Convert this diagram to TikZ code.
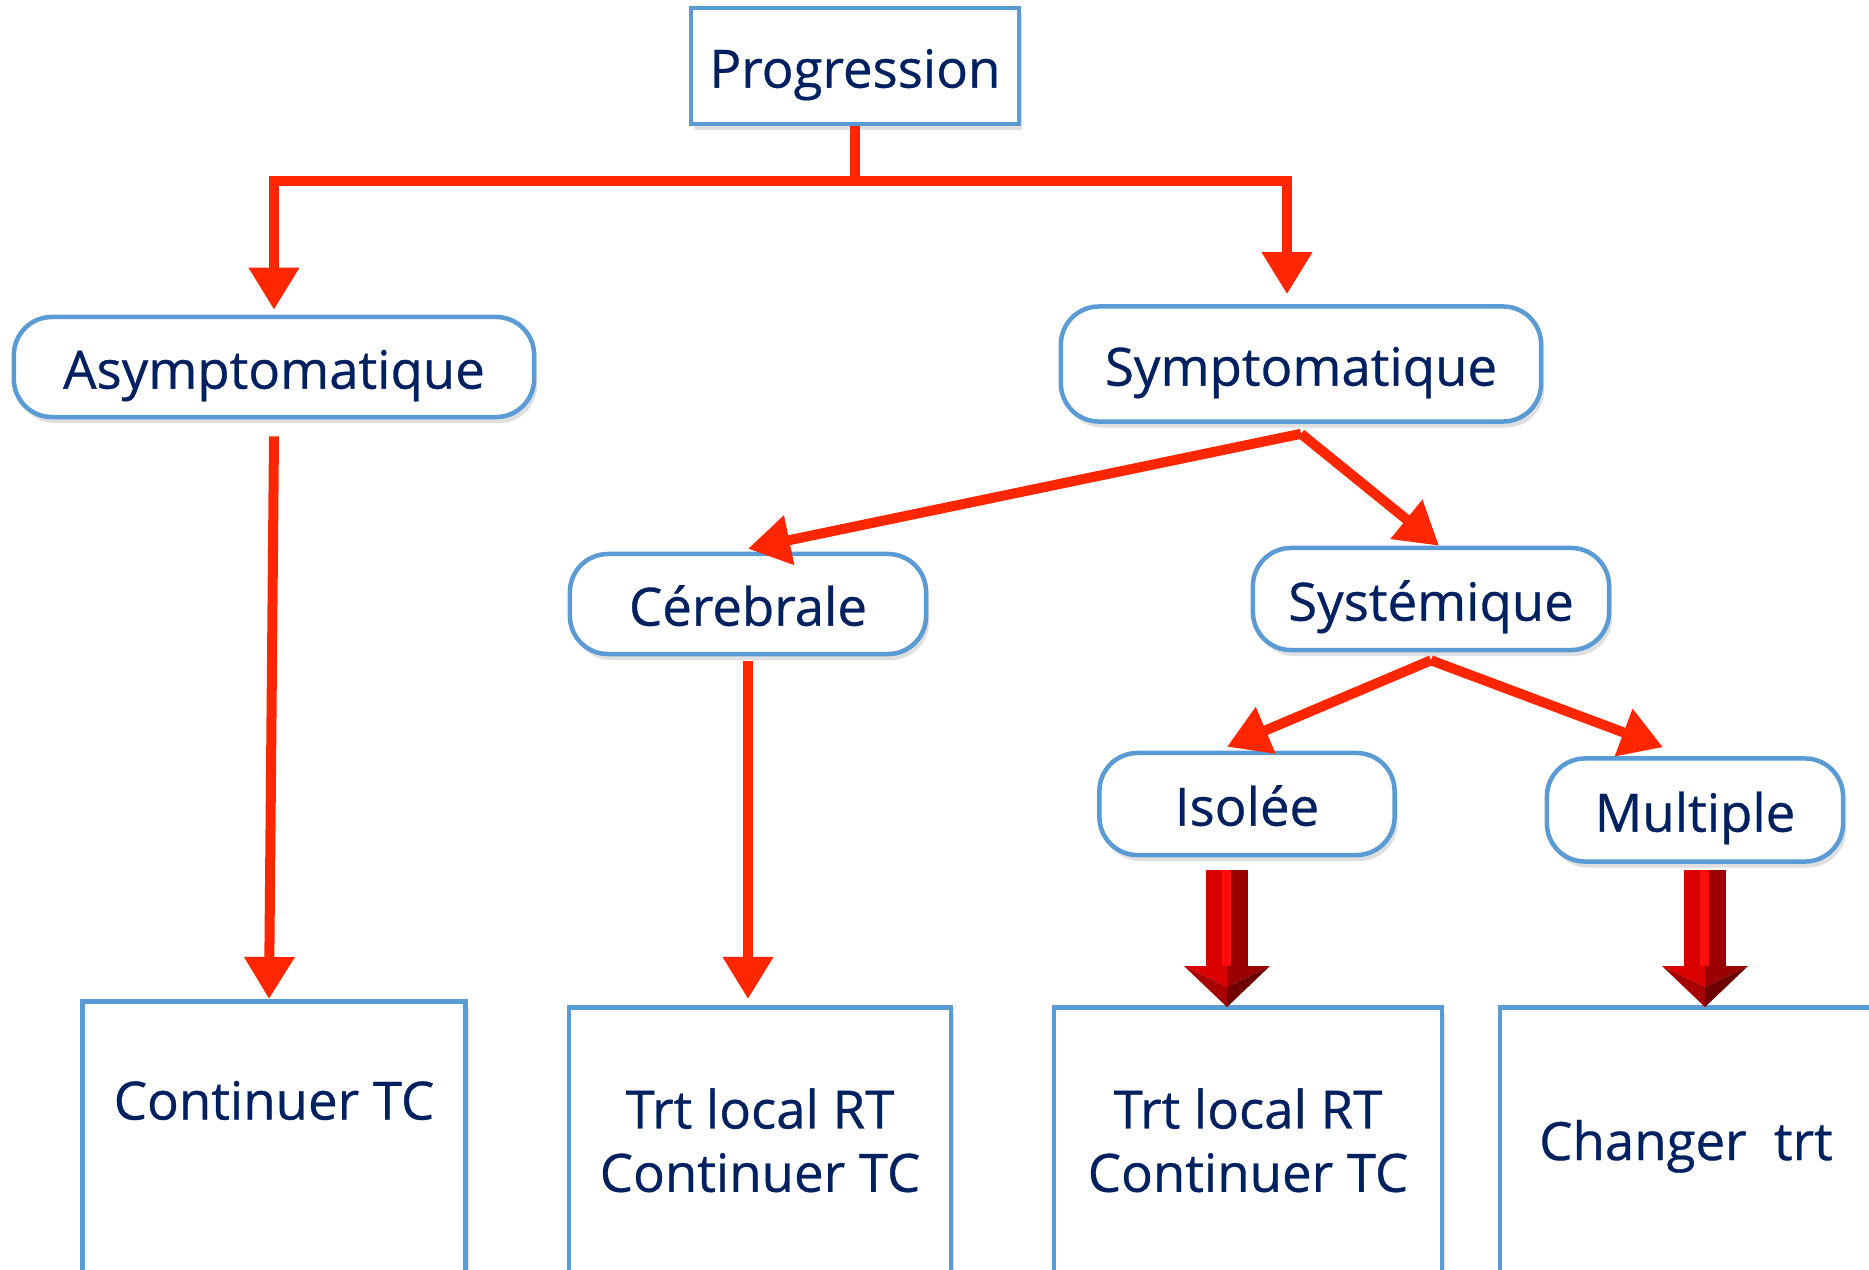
\documentclass[tikz,border=0pt]{standalone}
\usepackage{fontspec}
\setmainfont{Open Sans}[FakeBold=0.6]
\usetikzlibrary{arrows.meta,shadows}
\definecolor{boxblue}{RGB}{91,155,213}
\definecolor{inkblue}{RGB}{0,32,96}
\definecolor{flowred}{RGB}{255,38,0}
\definecolor{fatlite}{RGB}{255,12,12}
\definecolor{fatmid}{RGB}{218,0,0}
\definecolor{fatdark}{RGB}{155,0,0}
\definecolor{fatdeep}{RGB}{110,0,0}

\tikzset{
    fatarrow/.pic={
        \fill[fatmid] (-21,-137) rectangle (-5,-41);
        \fill[fatlite] (-5,-137) rectangle (4,-41);
        \fill[fatdark] (4,-137) rectangle (21,-41);
        \fill[fatmid] (-43,-41) -- (0,-41) -- (0,-20) -- cycle;
        \fill[fatdark!80!fatmid] (-43,-41) -- (0,-20) -- (0,0) -- cycle;
        \fill[fatdark] (43,-41) -- (0,-41) -- (0,-20) -- cycle;
        \fill[fatdeep] (43,-41) -- (0,-20) -- (0,0) -- cycle;
    }
}

\begin{document}
\begin{tikzpicture}[x=0.01cm, y=-0.01cm,
        every node/.style={font=\fontsize{15}{18}\selectfont, text=inkblue},
        boxline/.style={draw=boxblue, line width=0.045cm, fill=white,
            drop shadow={shadow xshift=0.03cm, shadow yshift=-0.06cm, opacity=0.25}},
        topbox/.style={boxline, text height=15.9pt, text depth=3.6pt,
            minimum width=3.28cm, minimum height=1.16cm},
        catbox/.style={boxline, text height=15.9pt, text depth=3.6pt,
            rounded corners=0.38cm, minimum height=1.0cm},
        leafbox/.style={boxline, anchor=north, minimum height=2.66cm, align=center},
        flow/.style={draw=flowred, line width=0.1cm, -{Triangle[width=0.48cm,length=0.42cm]}}]
    \useasboundingbox (0,0) rectangle (1869,1269);
    \clip (0,0) rectangle (1869,1269);

    \node[topbox] (prog) at (855,66) {Progression};
    \node[catbox, minimum width=5.2cm] (asym) at (274,367) {Asymptomatique};
    \node[catbox, minimum width=4.8cm, minimum height=1.15cm] (symp) at (1301,364) {Symptomatique};
    \node[catbox, minimum width=3.56cm] (cer) at (748,604) {Cérebrale};
    \node[catbox, minimum width=3.56cm, minimum height=1.02cm] (sys) at (1431,599) {Systémique};
    \node[catbox, minimum width=2.95cm, minimum height=1.02cm] (iso) at (1247,804) {Isolée};
    \node[catbox, minimum width=2.96cm, minimum height=1.03cm] (mul) at (1695,810) {Multiple};

    \node[leafbox, minimum width=3.83cm, minimum height=2.9cm] (cont) at (274,999) {Continuer TC\\[0.1cm]\strut};
    \node[leafbox, minimum width=3.82cm] (trt1) at (760,1005) {Trt local RT\\Continuer TC};
    \node[leafbox, minimum width=3.88cm] (trt2) at (1248,1005) {Trt local RT\\Continuer TC};
    \node[leafbox, minimum width=3.72cm, minimum height=2.78cm] (chg) at (1686,1005) {Changer\ \ trt};

    \coordinate (fork) at (855,181);
    \draw[draw=flowred, line width=0.1cm] (prog.south) -- (fork);
    \draw[flow] (fork) -| ([yshift=0.05cm]asym.north);
    \draw[flow] (fork) -| ([xshift=-0.14cm, yshift=0.1cm]symp.north);
    \draw[flow] ([yshift=-0.17cm]asym.south) -- ([xshift=-0.05cm]cont.north);
    \draw[flow] ([yshift=-0.05cm]cer.south) -- ([yshift=0.06cm]cer.south |- trt1.north);
    \draw[flow] ([yshift=-0.1cm]symp.south) -- ([yshift=0.03cm]cer.north);
    \draw[flow] ([yshift=-0.1cm]symp.south) -- ([xshift=0.08cm]sys.north);
    \draw[flow] ([yshift=-0.08cm]sys.south) -- ([xshift=-0.2cm, yshift=0.04cm]iso.north);
    \draw[flow] ([yshift=-0.08cm]sys.south) -- ([xshift=-0.32cm, yshift=0.09cm]mul.north);

    \pic at ([xshift=-0.2cm, yshift=-0.02cm]iso.south |- trt2.north) {fatarrow};
    \pic at ([xshift=0.1cm, yshift=-0.02cm]mul.south |- chg.north) {fatarrow};
\end{tikzpicture}
\end{document}
